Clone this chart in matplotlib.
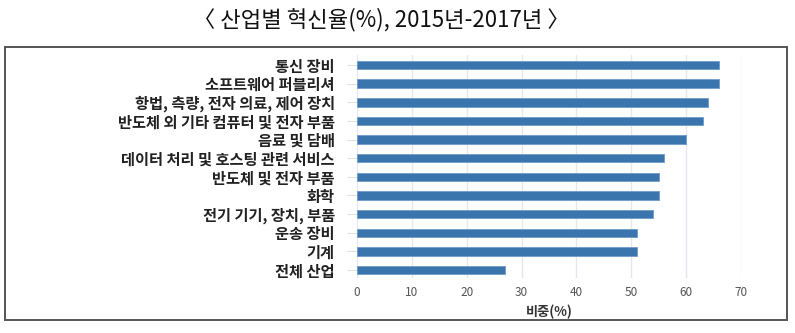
import matplotlib.pyplot as plt
from matplotlib.patches import Rectangle

plt.rcParams['font.family'] = ['Noto Sans CJK KR', 'DejaVu Sans']

# Innovation rate by industry, 2015-2017
industries = ['통신 장비', '소프트웨어 퍼블리셔', '항법, 측량, 전자 의료, 제어 장치',
              '반도체 외 기타 컴퓨터 및 전자 부품', '음료 및 담배',
              '데이터 처리 및 호스팅 관련 서비스', '반도체 및 전자 부품', '화학',
              '전기 기기, 장치, 부품', '운송 장비', '기계', '전체 산업']
rates = [66, 66, 64, 63, 60, 56, 55, 55, 54, 51, 51, 27]
xticks = [0, 10, 20, 30, 40, 50, 60, 70]

W, H = 795, 333
fig = plt.figure(figsize=(W / 100, H / 100), dpi=100)

# outer frame around the chart
fig.patches.append(Rectangle((5 / W, 1 - 320 / H), 782 / W, 273 / H,
                             transform=fig.transFigure, fill=False,
                             edgecolor='#555555', linewidth=1.4))

fig.text(0.48, 1 - 20 / H, '〈 산업별 혁신율(%), 2015년-2017년 〉',
         ha='center', va='center', fontsize=16, color='#111111')

ax = fig.add_axes([357 / W, 1 - 278 / H, 384 / W, 223 / H])
y = range(len(industries))
ax.barh(y, rates, height=0.45, color='#3a75ad', edgecolor='#6f9ccb', linewidth=0.6, zorder=3)

ax.set_xlim(0, 70)
ax.set_ylim(len(industries) - 0.57, -0.54)
ax.set_xticks(xticks)
ax.set_yticks(list(y))
ax.set_yticklabels(industries, fontsize=11, fontweight='bold', color='#222222')
ax.tick_params(axis='y', length=7, color='#dddde6', pad=9)
ax.tick_params(axis='x', length=0, pad=6, labelsize=8.5, labelcolor='#555555')
ax.grid(axis='x', color='#e6e6ee', linewidth=1, zorder=0)
ax.set_xlabel('비중(%)', fontsize=9.5, fontweight='bold', color='#333333', labelpad=4)
for s in ax.spines.values():
    s.set_visible(False)

fig.savefig('out.png', dpi=100)
